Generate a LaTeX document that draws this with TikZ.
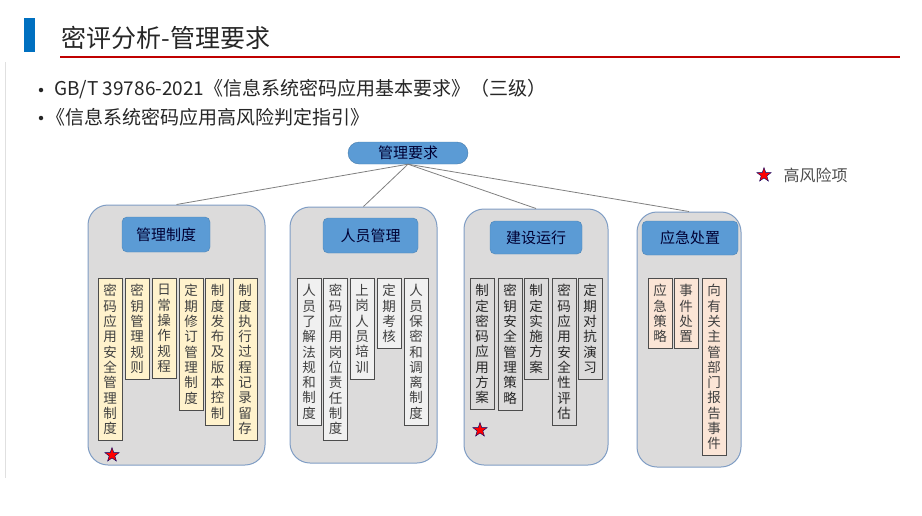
\documentclass[tikz,border=0pt]{standalone}
\usepackage{fontspec}
\setmainfont{Noto Sans CJK SC}
\usetikzlibrary{shapes.geometric}
\definecolor{barblue}{HTML}{0070C0}
\definecolor{linered}{HTML}{C00000}
\definecolor{hdrblue}{HTML}{5B9BD5}
\definecolor{grpfill}{HTML}{DCDBDB}
\definecolor{grpline}{HTML}{7F9DC4}
\definecolor{cream}{HTML}{FFF2CC}
\definecolor{peach}{HTML}{FBE5D6}
\definecolor{paleg}{HTML}{F0F0F0}
\definecolor{txtdark}{HTML}{262626}

% stack the characters of #1 one under another
\ExplSyntaxOn
\NewDocumentCommand\vstack{m}{
  \seq_clear:N \l_tmpa_seq
  \tl_map_inline:nn {#1} {\seq_put_right:Nn \l_tmpa_seq {##1}}
  \seq_use:Nn \l_tmpa_seq {\\}
}
\ExplSyntaxOff

\begin{document}
\begin{tikzpicture}[x=1pt, y=-1pt,
    grp/.style={draw=grpline, line width=1pt, fill=grpfill, rounded corners=20pt},
    hdr/.style={fill=hdrblue, draw=hdrblue!85!black, rounded corners=5pt, text=black!80!blue,
      font=\fontsize{15}{18}\selectfont},
    item/.style={draw=black!70, line width=1pt, anchor=north, align=center, minimum width=24pt,
      inner xsep=4pt, inner ysep=6pt, text=black!75, font=\fontsize{13.5}{15.3}\selectfont},
    conn/.style={draw=black!50, line width=0.8pt},
    bul/.style={circle, fill=txtdark, minimum size=4.5pt, inner sep=0pt},
    riskstar/.style={star, star points=5, star point ratio=2.5, minimum size=15pt, inner sep=0pt,
      fill=red, draw=blue!40!black, line width=0.4pt}]
  \useasboundingbox (0,0) rectangle (922,515);

  % title
  \fill[barblue] (24,18) rectangle (35,52);
  \node[anchor=west, text=txtdark, font=\fontsize{25}{29}\selectfont] (title) at (58,38) {密评分析-管理要求};
  \draw[linered, line width=2.5pt] (60,57) -- (900,57);
  \draw[black!12, line width=0.6pt] (5,62) -- (5,478);

  % bullets
  \node[bul] (dot1) at (41,90) {};
  \node[anchor=west, text=txtdark, font=\fontsize{19}{22}\selectfont, inner sep=0pt] (std1) at (54,89)
    {GB/T 39786-2021《信息系统密码应用基本要求》（三级）};
  \node[bul] (dot2) at (41,118) {};
  \node[anchor=west, text=txtdark, font=\fontsize{19}{22}\selectfont, inner sep=0pt] (std2) at (46,117)
    {《信息系统密码应用高风险判定指引》};

  % root
  \node[fill=hdrblue, draw=hdrblue!80!black, rounded corners=11pt, minimum width=120pt,
    minimum height=22pt, inner sep=0pt, text=black!80!blue, font=\fontsize{15}{18}\selectfont]
    (root) at (408,153) {管理要求};

  % groups
  \node[grp, minimum width=177pt, minimum height=260pt] (g1) at (176.5,335) {};
  \node[grp, minimum width=147pt, minimum height=256pt] (g2) at (363.5,335) {};
  \node[grp, minimum width=144pt, minimum height=256pt] (g3) at (536,337) {};
  \node[grp, minimum width=104pt, minimum height=255pt] (g4) at (689,339.5) {};

  \draw[conn] (root.south) -- (g1.north);
  \draw[conn] (root.south) -- (g2.north);
  \draw[conn] (root.south) -- (g3.north);
  \draw[conn] (root.south) -- (g4.north);

  \node[hdr, minimum width=88pt, minimum height=35pt] (h1) at (166,234.5) {管理制度};
  \node[hdr, minimum width=95pt, minimum height=35pt] (h2) at (370.5,235.5) {人员管理};
  \node[hdr, minimum width=92pt, minimum height=33pt] (h3) at (536,237.5) {建设运行};
  \node[hdr, minimum width=96pt, minimum height=34pt] (h4) at (690,238) {应急处置};

  % 管理制度
  \node[item, fill=cream] (m1) at (110,278) {\vstack{密码应用安全管理制度}};
  \node[item, fill=cream] (m2) at (137,278) {\vstack{密钥管理规则}};
  \node[item, fill=cream] (m3) at (164,278) {\vstack{日常操作规程}};
  \node[item, fill=cream] (m4) at (191,278) {\vstack{定期修订管理制度}};
  \node[item, fill=cream] (m5) at (217.5,278) {\vstack{制度发布及版本控制}};
  \node[item, fill=cream] (m6) at (245,278) {\vstack{制度执行过程记录留存}};

  % 人员管理
  \node[item, fill=paleg] (p1) at (309,278) {\vstack{人员了解法规和制度}};
  \node[item, fill=paleg] (p2) at (335.5,278) {\vstack{密码应用岗位责任制度}};
  \node[item, fill=paleg] (p3) at (362,278) {\vstack{上岗人员培训}};
  \node[item, fill=paleg] (p4) at (389,278) {\vstack{定期考核}};
  \node[item, fill=paleg] (p5) at (416,278) {\vstack{人员保密和调离制度}};

  % 建设运行
  \node[item, fill=grpfill, text=black!85] (c1) at (482,278) {\vstack{制定密码应用方案}};
  \node[item, fill=grpfill, text=black!85] (c2) at (510,278) {\vstack{密钥安全管理策略}};
  \node[item, fill=grpfill, text=black!85] (c3) at (536,278) {\vstack{制定实施方案}};
  \node[item, fill=grpfill, text=black!85] (c4) at (564,278) {\vstack{密码应用安全性评估}};
  \node[item, fill=grpfill, text=black!85] (c5) at (590,278) {\vstack{定期对抗演习}};

  % 应急处置
  \node[item, fill=peach] (e1) at (660,278) {\vstack{应急策略}};
  \node[item, fill=peach] (e2) at (686,278) {\vstack{事件处置}};
  \node[item, fill=peach] (e3) at (714,278) {\vstack{向有关主管部门报告事件}};

  % high risk marks
  \node[riskstar] (s1) at (112,455) {};
  \node[riskstar] (s2) at (480,430) {};
  \node[riskstar] (s0) at (764,175) {};
  \node[anchor=west, text=black!70, font=\fontsize{16}{19}\selectfont] (risk) at (780,175) {高风险项};
\end{tikzpicture}
\end{document}
